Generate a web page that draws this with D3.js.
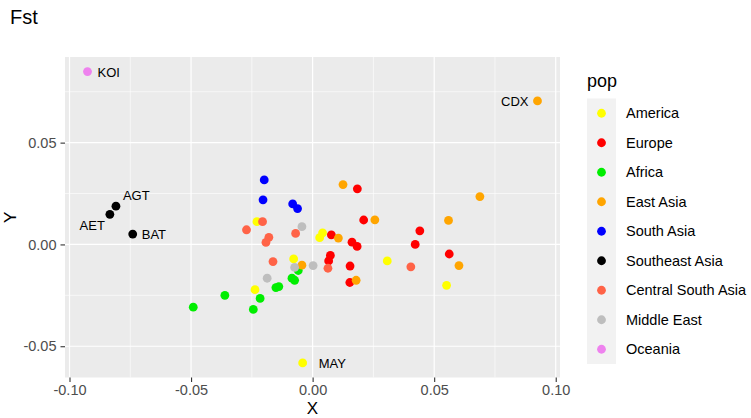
<!DOCTYPE html>
<html>
<head>
<meta charset="utf-8">
<script src="https://cdn.jsdelivr.net/npm/d3@7"></script>
<style>
    body { margin: 0; background: #ffffff; }
    svg { display: block; font-family: 'Liberation Sans', Arial, sans-serif; }
</style>
</head>
<body>
<div id="chart"></div>
<script>
const popNames = ['America', 'Europe', 'Africa', 'East Asia', 'South Asia',
    'Southeast Asia', 'Central South Asia', 'Middle East', 'Oceania'];
const popColors = ['#FFFF00', '#FF0000', '#00EE00', '#FFA500', '#0000FF',
    '#000000', '#FF6347', '#BEBEBE', '#EE82EE'];

// [x, y, optional label]
const america = [[-0.0229, 0.0112], [-0.0078, -0.0071], [-0.0237, -0.0222],
    [-0.0041, -0.0582, 'MAY'], [0.0029, 0.0033], [0.0041, 0.0057],
    [0.0307, -0.0081], [0.0551, -0.0201]];
const europe = [[0.0077, 0.0047], [0.0073, -0.0054], [0.0066, -0.0081],
    [0.0184, 0.0273], [0.0210, 0.0120], [0.0441, 0.0067], [0.0422, 0.0000],
    [0.0162, 0.0011], [0.0183, -0.0010], [0.0562, -0.0047], [0.0154, -0.0106],
    [0.0153, -0.0187]];
const africa = [[-0.0059, -0.0128], [-0.0085, -0.0166], [-0.0074, -0.0176],
    [-0.0151, -0.0212], [-0.0139, -0.0207], [-0.0216, -0.0265],
    [-0.0244, -0.0319], [-0.0361, -0.0250], [-0.0491, -0.0308]];
const eastAsia = [[-0.0044, -0.0102], [0.0106, 0.0031], [0.0125, 0.0294],
    [0.0256, 0.0121], [0.0559, 0.0118], [0.0602, -0.0104], [0.0179, -0.0176],
    [0.0688, 0.0235], [0.0925, 0.0705, 'CDX']];
const southAsia = [[-0.0199, 0.0317], [-0.0204, 0.0219], [-0.0082, 0.0199],
    [-0.0062, 0.0176]];
const southeastAsia = [[-0.0809, 0.0188, 'AGT'], [-0.0834, 0.0148, 'AET'],
    [-0.0740, 0.0051, 'BAT']];
const centralSouthAsia = [[-0.0206, 0.0112], [-0.0272, 0.0072], [-0.0180, 0.0035],
    [-0.0192, 0.0010], [-0.0070, 0.0054], [-0.0163, -0.0084], [0.0063, -0.0117],
    [0.0404, -0.0110]];
const middleEast = [[-0.0044, 0.0087], [-0.0074, -0.0113], [0.0002, -0.0104],
    [-0.0187, -0.0166]];
const oceania = [[-0.0926, 0.0849, 'KOI']];

const seriesValues = [america, europe, africa, eastAsia, southAsia,
    southeastAsia, centralSouthAsia, middleEast, oceania];

const xTicks = [-0.10, -0.05, 0.00, 0.05, 0.10];
const xTickLabels = ['-0.10', '-0.05', '0.00', '0.05', '0.10'];
const xMinor = [-0.075, -0.025, 0.025, 0.075];
const yTicks = [-0.05, 0.00, 0.05];
const yTickLabels = ['-0.05', '0.00', '0.05'];
const yMinor = [-0.025, 0.025, 0.075];

// label placement relative to its point (px)
const labelNudge = {
    KOI: [10, 5, 'start'],
    AGT: [7, -6, 'start'],
    AET: [-5, 16, 'end'],
    BAT: [9, 5, 'start'],
    CDX: [-9, 5, 'end'],
    MAY: [16, 5, 'start']
};

const width = 751;
const height = 418;
const panel = { left: 65, right: 560, top: 57, bottom: 377.5 };

const points = seriesValues.flatMap((pts, i) =>
    pts.map(p => ({ pop: popNames[i], x: p[0], y: p[1], label: p[2] })));

function expand(ext) {
    const pad = (ext[1] - ext[0]) * 0.05;
    return [ext[0] - pad, ext[1] + pad];
}

const x = d3.scaleLinear()
    .domain(expand(d3.extent(points, d => d.x)))
    .range([panel.left, panel.right]);
const y = d3.scaleLinear()
    .domain(expand(d3.extent(points, d => d.y)))
    .range([panel.bottom, panel.top]);
const color = d3.scaleOrdinal().domain(popNames).range(popColors);

const svg = d3.select('#chart')
    .append('svg')
    .attr('width', width)
    .attr('height', height);

svg.append('rect')
    .attr('x', panel.left)
    .attr('y', panel.top)
    .attr('width', panel.right - panel.left)
    .attr('height', panel.bottom - panel.top)
    .attr('fill', '#EBEBEB');

// grid
const grid = svg.append('g');
grid.selectAll('.xminor').data(xMinor).enter().append('line')
    .attr('x1', d => x(d)).attr('x2', d => x(d))
    .attr('y1', panel.top).attr('y2', panel.bottom)
    .attr('stroke', '#fff').attr('stroke-width', 0.6);
grid.selectAll('.yminor').data(yMinor).enter().append('line')
    .attr('y1', d => y(d)).attr('y2', d => y(d))
    .attr('x1', panel.left).attr('x2', panel.right)
    .attr('stroke', '#fff').attr('stroke-width', 0.6);
grid.selectAll('.xmajor').data(xTicks).enter().append('line')
    .attr('x1', d => x(d)).attr('x2', d => x(d))
    .attr('y1', panel.top).attr('y2', panel.bottom)
    .attr('stroke', '#fff').attr('stroke-width', 1.2);
grid.selectAll('.ymajor').data(yTicks).enter().append('line')
    .attr('y1', d => y(d)).attr('y2', d => y(d))
    .attr('x1', panel.left).attr('x2', panel.right)
    .attr('stroke', '#fff').attr('stroke-width', 1.2);

// axes
const xAxis = svg.append('g')
    .attr('transform', `translate(0,${panel.bottom})`)
    .call(d3.axisBottom(x).tickValues(xTicks)
        .tickFormat((d, i) => xTickLabels[i])
        .tickSize(4.5).tickPadding(3));
const yAxis = svg.append('g')
    .attr('transform', `translate(${panel.left},0)`)
    .call(d3.axisLeft(y).tickValues(yTicks)
        .tickFormat((d, i) => yTickLabels[i])
        .tickSize(4.5).tickPadding(4));

[xAxis, yAxis].forEach(a => {
    a.select('.domain').remove();
    a.selectAll('line').attr('stroke', '#333333').attr('stroke-width', 1.1);
    a.selectAll('text')
        .attr('fill', '#4D4D4D')
        .attr('font-size', '14.5px')
        .attr('font-family', 'Liberation Sans, Arial, sans-serif');
});

// points
svg.append('g')
    .selectAll('circle')
    .data(points)
    .enter()
    .append('circle')
    .attr('cx', d => x(d.x))
    .attr('cy', d => y(d.y))
    .attr('r', 4.4)
    .attr('fill', d => color(d.pop));

// labels
svg.append('g')
    .selectAll('text')
    .data(points.filter(d => d.label))
    .enter()
    .append('text')
    .attr('x', d => x(d.x) + labelNudge[d.label][0])
    .attr('y', d => y(d.y) + labelNudge[d.label][1])
    .attr('text-anchor', d => labelNudge[d.label][2])
    .attr('font-size', '13px')
    .attr('fill', '#000')
    .text(d => d.label);

// titles
svg.append('text')
    .attr('x', 10)
    .attr('y', 24)
    .attr('font-size', '20px')
    .attr('fill', '#000')
    .text('Fst');

svg.append('text')
    .attr('x', (panel.left + panel.right) / 2)
    .attr('y', 414)
    .attr('text-anchor', 'middle')
    .attr('font-size', '17px')
    .attr('fill', '#000')
    .text('X');

svg.append('text')
    .attr('transform', `translate(16,${(panel.top + panel.bottom) / 2}) rotate(-90)`)
    .attr('text-anchor', 'middle')
    .attr('font-size', '17px')
    .attr('fill', '#000')
    .text('Y');

// legend
const keyH = 29.5;
const legend = svg.append('g').attr('transform', 'translate(587,98.5)');

legend.append('text')
    .attr('x', 0)
    .attr('y', -12)
    .attr('font-size', '18px')
    .attr('fill', '#000')
    .text('pop');

legend.append('rect')
    .attr('width', 29)
    .attr('height', keyH * popNames.length)
    .attr('fill', '#F2F2F2');

const items = legend.selectAll('.item')
    .data(popNames)
    .enter()
    .append('g')
    .attr('transform', (d, i) => `translate(0,${i * keyH + keyH / 2})`);

items.append('circle')
    .attr('cx', 14.5)
    .attr('r', 4.4)
    .attr('fill', d => color(d));

items.append('text')
    .attr('x', 39)
    .attr('dy', '0.36em')
    .attr('font-size', '14.5px')
    .attr('fill', '#000')
    .text(d => d);
</script>
</body>
</html>
